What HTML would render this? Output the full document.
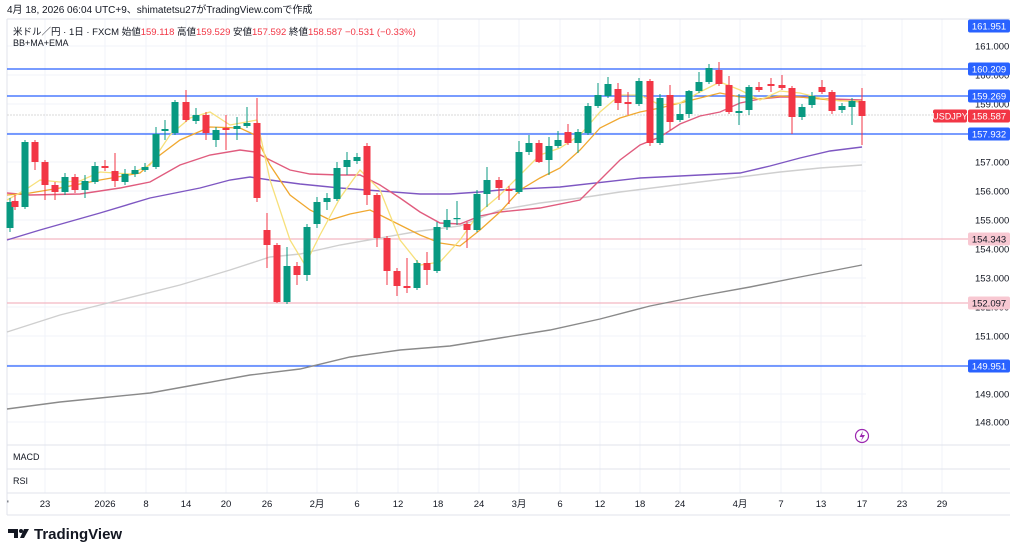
<!DOCTYPE html>
<html><head><meta charset="utf-8">
<style>
body{margin:0;background:#fff;width:1024px;height:556px;overflow:hidden;font-family:"Liberation Sans","Noto Sans CJK JP",sans-serif}
svg{position:absolute;left:0;top:0}
</style></head><body>
<svg id="s" width="1024" height="556" xmlns="http://www.w3.org/2000/svg" font-family="Liberation Sans, Noto Sans CJK JP, sans-serif"></svg>
<script>
const S=document.getElementById('s');let h='';
// grid
const ys=[46,75,104,133,162,191,220,249,278,307,336,365,394,422];
ys.forEach(y=>h+=`<line x1="7" y1="${y}" x2="866" y2="${y}" stroke="#f0f3fa"/>`);
const xl=[[45,'23'],[105,'2026'],[146,'8'],[186,'14'],[226,'20'],[267,'26'],[317,'2月'],[357,'6'],[398,'12'],[438,'18'],[479,'24'],[519,'3月'],[560,'6'],[600,'12'],[640,'18'],[680,'24'],[740,'4月'],[781,'7'],[821,'13'],[862,'17'],[902,'23'],[942,'29']];
xl.forEach(([x])=>h+=`<line x1="${x}" y1="19" x2="${x}" y2="493" stroke="#f0f3fa"/>`);
// frame
h+=`<line x1="7" y1="19" x2="1010" y2="19" stroke="#e0e3eb"/>`;
h+=`<line x1="7" y1="19" x2="7" y2="515" stroke="#e0e3eb"/>`;
h+=`<line x1="7" y1="445" x2="1010" y2="445" stroke="#e0e3eb"/>`;
h+=`<line x1="7" y1="469" x2="1010" y2="469" stroke="#e0e3eb"/>`;
h+=`<line x1="7" y1="493" x2="1010" y2="493" stroke="#e0e3eb"/>`;
h+=`<line x1="7" y1="515" x2="1010" y2="515" stroke="#e0e3eb"/>`;
// price lines
h+=`<line x1="7" y1="115" x2="1010" y2="115" stroke="#d8d8d8" stroke-dasharray="2,1"/>`;
[[239,'#f4b6c2'],[303,'#f4b6c2']].forEach(([y,c])=>h+=`<line x1="7" y1="${y}" x2="968" y2="${y}" stroke="${c}" stroke-width="1.2"/>`);
[69,96,134,366].forEach(y=>h+=`<line x1="7" y1="${y}" x2="968" y2="${y}" stroke="#2962ff" stroke-width="1.3"/>`);
// MAs
function pl(p,c,w){h+=`<polyline fill="none" stroke="${c}" stroke-width="${w}" points="${p}"/>`;}
pl("7,409 60,402 100,398 150,393 200,384 250,375 300,369 350,357 400,350 450,346 500,338 550,330 600,319 650,306 700,296 750,287 800,277 862,265","#8a8a8a",1.4);
pl("7,332 60,315 120,300 180,285 230,270 270,257 300,254 340,245 380,238 420,231 460,226 500,210 540,203 580,198 620,192 660,187 700,182 740,177 780,172 820,168 862,165","#cfcfcf",1.4);
pl("7,240 40,230 100,213 150,198 200,188 230,180 250,177 270,180 300,184 340,188 380,191 420,194 450,194 480,192 500,190 560,187 640,178 700,175 740,173 770,166 800,158 830,151 862,147","#7e57c2",1.4);
pl("7,193 30,195 80,194 120,188 150,182 180,165 210,155 240,150 255,152 270,160 290,170 310,174 340,175 360,175 380,185 400,198 420,212 440,223 460,224 480,216 500,212 540,208 580,200 600,180 620,160 640,145 660,137 680,124 700,116 720,112 740,103 760,99 780,97 800,97 830,99 862,100","#e05c7e",1.4);
pl("7,195 30,193 60,188 100,180 140,173 160,155 180,140 210,127 240,128 255,135 270,165 290,195 310,210 330,220 350,214 370,210 390,220 420,235 440,243 460,246 480,230 500,212 520,190 540,178 560,168 580,150 600,128 620,118 640,112 660,108 680,103 700,98 720,93 740,97 760,99 780,96 800,97 830,100 862,102","#f0a830",1.3);
pl("7,200 25,190 40,180 60,182 80,181 100,172 130,174 150,165 170,135 190,118 210,112 230,125 257,120 270,180 290,240 305,265 320,235 340,198 360,170 380,190 400,240 420,265 440,262 460,240 480,212 500,195 520,175 540,155 560,148 580,135 600,112 620,95 640,95 660,105 680,103 700,92 720,82 740,90 760,100 780,91 800,93 820,98 840,101 862,101","#f7e07a",1.3);
// candles [x,dir,bodyTop,bodyBot,wickTop,wickBot]
const C=[[10,1,202,228,198,232],[15,0,201,207,195,210],[25,1,142,207,140,209],[35,0,142,162,140,170],[45,0,162,185,160,200],[55,0,185,192,182,200],[65,1,177,192,173,195],[75,0,177,190,174,193],[85,1,181,190,175,198],[95,1,166,182,162,184],[105,0,166,168,160,171],[115,0,171,181,153,187],[125,1,174,182,169,185],[135,1,170,174,166,177],[145,1,167,170,163,172],[156,1,134,167,127,169],[165,1,129,131,120,140],[175,1,102,133,100,135],[186,0,102,120,90,122],[196,1,115,121,108,124],[206,0,115,133,112,140],[216,1,130,140,127,147],[226,0,128,130,115,150],[237,1,126,129,117,140],[247,1,123,126,107,128],[257,0,123,198,98,202],[267,0,230,245,213,268],[277,0,245,302,243,303],[287,1,266,302,247,304],[297,0,266,275,262,285],[307,1,227,275,224,281],[317,1,202,224,197,228],[327,1,198,202,193,210],[337,1,168,199,162,201],[347,1,160,167,152,175],[357,1,157,161,153,164],[367,0,146,195,143,205],[377,0,195,238,193,247],[387,0,238,271,236,285],[397,0,271,286,268,296],[407,0,286,288,258,293],[417,1,263,288,260,290],[427,0,263,270,252,285],[437,1,227,271,222,273],[447,1,220,227,209,230],[457,1,218,219,201,225],[467,0,224,230,222,248],[477,1,194,230,190,232],[487,1,180,194,167,207],[499,0,180,188,177,200],[509,0,189,191,186,204],[519,1,152,192,141,194],[529,1,143,152,135,155],[539,0,143,162,140,163],[549,1,146,160,137,175],[558,1,140,146,131,148],[568,0,132,143,124,145],[578,1,132,143,129,153],[588,1,106,133,103,135],[598,1,95,106,83,108],[608,1,84,96,77,98],[618,0,89,103,83,110],[628,0,102,104,92,115],[639,1,81,104,78,106],[650,0,81,143,79,146],[660,1,98,143,94,145],[670,0,95,122,85,130],[680,1,114,120,104,122],[689,1,91,114,90,118],[699,1,82,91,72,93],[709,1,68,82,64,84],[719,0,70,84,62,86],[729,0,85,112,76,114],[739,1,111,113,94,125],[749,1,87,110,85,115],[759,0,87,90,82,92],[771,0,84,86,78,92],[782,0,85,88,75,90],[792,0,88,117,86,134],[802,1,107,117,104,120],[812,1,96,105,92,108],[822,0,87,92,80,94],[832,0,92,111,90,114],[842,1,106,110,103,113],[852,1,101,107,98,125],[862,0,101,116,88,145]];
C.forEach(([x,d,bt,bb,wt,wb])=>{const c=d?'#089981':'#f23645';
h+=`<line x1="${x}" y1="${wt}" x2="${x}" y2="${wb}" stroke="${c}" stroke-width="1"/>`;
h+=`<rect x="${x-3.5}" y="${bt}" width="7" height="${Math.max(1.2,bb-bt)}" fill="${c}"/>`;});
// price axis labels
[[46,'161.000'],[75,'160.000'],[104,'159.000'],[162,'157.000'],[191,'156.000'],[220,'155.000'],[249,'154.000'],[278,'153.000'],[307,'152.000'],[336,'151.000'],[394,'149.000'],[422,'148.000']].forEach(([y,t])=>h+=`<text x="975" y="${y+3.5}" font-size="9.5" fill="#131722">${t}</text>`);
function lab(y,t,bg,fg){h+=`<rect x="968" y="${y-6.5}" width="42" height="13" rx="2" fill="${bg}"/><text x="989" y="${y+3.5}" font-size="9.5" fill="${fg}" text-anchor="middle">${t}</text>`;}
lab(26,'161.951','#2962ff','#fff');lab(69,'160.209','#2962ff','#fff');lab(96,'159.269','#2962ff','#fff');lab(134,'157.932','#2962ff','#fff');lab(366,'149.951','#2962ff','#fff');
lab(239,'154.343','#f8c8d2','#131722');lab(303,'152.097','#f8c8d2','#131722');
lab(116,'158.587','#f23645','#fff');
h+=`<rect x="933" y="109.5" width="34" height="13" rx="2" fill="#f23645"/><text x="950" y="119.5" font-size="9" fill="#fff" text-anchor="middle">USDJPY</text>`;
// x labels
xl.forEach(([x,t])=>h+=`<text x="${x}" y="507" font-size="9.5" fill="#131722" text-anchor="middle">${t}</text>`);
h+=`<text x="7" y="507" font-size="9.5" fill="#131722">'</text>`;
// panels
h+=`<text x="13" y="460" font-size="9" fill="#131722">MACD</text><text x="13" y="484" font-size="9" fill="#131722">RSI</text>`;
// lightning
h+=`<circle cx="862" cy="436" r="6.5" fill="none" stroke="#9c27b0" stroke-width="1.2"/><path d="M863,431 L859.5,437 L862.5,437 L861,441 L865,435 L862,435 Z" fill="#9c27b0"/>`;
// header
h+=`<text x="7" y="13" font-size="10" fill="#131722">4月 18, 2026 06:04 UTC+9、shimatetsu27がTradingView.comで作成</text>`;
h+=`<text x="13" y="35" font-size="9.5" fill="#131722">米ドル／円 · 1日 · FXCM  始値<tspan fill="#f23645">159.118</tspan>  高値<tspan fill="#f23645">159.529</tspan>  安値<tspan fill="#f23645">157.592</tspan>  終値<tspan fill="#f23645">158.587  −0.531 (−0.33%)</tspan></text>`;
h+=`<text x="13" y="46" font-size="9" fill="#131722">BB+MA+EMA</text>`;
// logo
h+=`<path d="M8,529 h10 v9 h-4 v-5 h-6z" fill="#131722"/><circle cx="21" cy="531" r="2" fill="#131722"/><path d="M24,529 h5 l-5,9 h-4z" fill="#131722"/>`;
h+=`<text x="34" y="539" font-size="15" font-weight="bold" fill="#131722">TradingView</text>`;
S.innerHTML=h;
</script>
</body></html>
